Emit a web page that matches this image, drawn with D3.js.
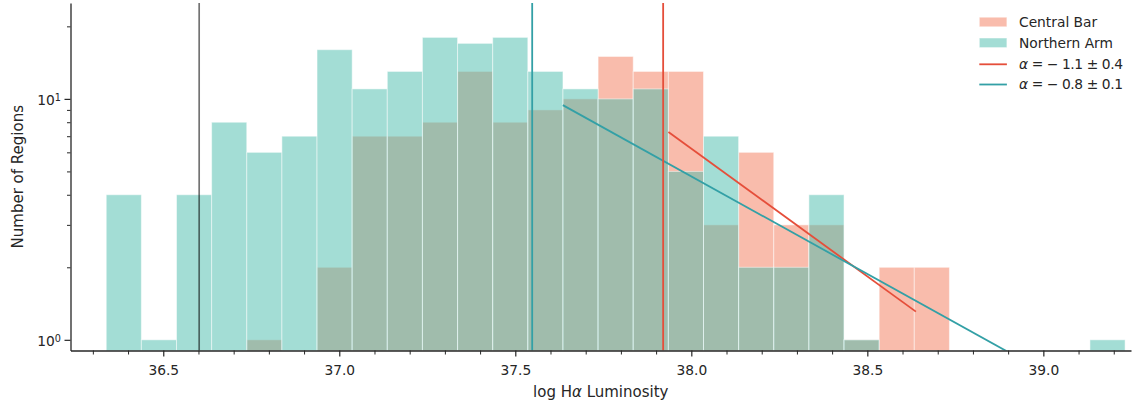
<!DOCTYPE html>
<html>
<head>
<meta charset="utf-8">
<script src="https://cdn.jsdelivr.net/npm/d3@7"></script>
<style>
  html, body { margin: 0; padding: 0; background: #fff; }
  svg { display: block; font-family: "DejaVu Sans", sans-serif; }
  .axis text { fill: #262626; font-size: 13.8px; font-family: "DejaVu Sans", sans-serif; }
  .axis path, .axis line { stroke: #262626; }
</style>
</head>
<body>
<svg id="chart" width="1133" height="404"></svg>
<script>
// Histogram binning (shared by both regions)
const binStart = 36.338;
const binWidth = 0.0998;

// Counts per luminosity bin
const centralBar  = [0,0,0,0,1,0,2,7,7,8,13,8,9,10,15,13,13,3,6,3,3,1,2,2,0,0,0,0,0];
const northernArm = [4,1,4,8,6,7,16,11,13,18,17,18,13,11,10,11,5,7,2,2,4,1,0,0,0,0,0,0,1];

// Power-law fits: slope, fitted range, and count at the range start
const fitAlpha = [-1.06, -0.81];
const fitError = [0.4, 0.1];
const fitStart = [37.935, 37.635];
const fitEnd   = [38.638, 39.25];
const fitNorm  = [7.28, 9.42];

// Vertical reference luminosities
const refLines = [36.602, 37.548, 37.920];

// Axis ticks
const xMajor = [36.5, 37.0, 37.5, 38.0, 38.5, 39.0];
const xMinor = [36.3, 36.4, 36.6, 36.7, 36.8, 36.9, 37.1, 37.2, 37.3, 37.4, 37.6, 37.7, 37.8, 37.9,
                38.1, 38.2, 38.3, 38.4, 38.6, 38.7, 38.8, 38.9, 39.1, 39.2];
const yMajor = [1, 10];
const yMinor = [2, 3, 4, 5, 6, 7, 8, 9, 20];

const seriesNames = ["Central Bar", "Northern Arm"];
const fillColors = ["#f3795a", "#47bbab"];
const lineColors = ["#e54e3a", "#33a0a6"];
const refColors  = ["#000000", "#33a0a6", "#e54e3a"];
const refOpacity = [0.55, 1, 1];

const svg = d3.select("#chart");
const pLeft = 70.5, pRight = 1131, pTop = 3, pBottom = 350.5;

const x = d3.scaleLinear().domain([36.2365, 39.249]).range([pLeft, pRight]);
const y = d3.scaleLog().domain([0.903, 25.0]).range([pBottom, pTop]);

svg.append("defs").append("clipPath").attr("id", "plotClip")
  .append("rect").attr("x", pLeft).attr("y", pTop).attr("width", pRight - pLeft).attr("height", pBottom - pTop);

const plot = svg.append("g").attr("clip-path", "url(#plotClip)");

// Bars
[centralBar, northernArm].forEach((counts, s) => {
  const bins = counts.map((c, i) => ({ c, x0: binStart + i * binWidth, x1: binStart + (i + 1) * binWidth }))
                     .filter(d => d.c > 0);
  plot.append("g").selectAll("rect").data(bins).join("rect")
    .attr("x", d => x(d.x0))
    .attr("width", d => x(d.x1) - x(d.x0))
    .attr("y", d => y(d.c))
    .attr("height", d => pBottom + 2 - y(d.c))
    .attr("fill", fillColors[s]).attr("fill-opacity", 0.5)
    .attr("stroke", "#fff").attr("stroke-opacity", 0.5).attr("stroke-width", 1);
});

// Power-law fit lines: log N = log N0 + alpha (L - L0)
const line = d3.line().x(d => x(d[0])).y(d => y(d[1]));
fitAlpha.forEach((a, s) => {
  const pts = [fitStart[s], fitEnd[s]].map(v => [v, fitNorm[s] * Math.pow(10, a * (v - fitStart[s]))]);
  plot.append("path").attr("d", line(pts))
    .attr("fill", "none").attr("stroke", lineColors[s]).attr("stroke-width", 1.8);
});

// Vertical reference lines
plot.append("g").selectAll("line").data(refLines).join("line")
  .attr("x1", d => x(d)).attr("x2", d => x(d))
  .attr("y1", pTop).attr("y2", pBottom)
  .attr("stroke", (d, i) => refColors[i])
  .attr("stroke-opacity", (d, i) => refOpacity[i])
  .attr("stroke-width", (d, i) => i === 0 ? 1.7 : 1.8);

// X axis
svg.append("g").attr("class", "axis")
  .attr("transform", `translate(0,${pBottom})`)
  .call(d3.axisBottom(x).tickValues(xMinor).tickSize(4).tickFormat("").tickSizeOuter(0))
  .call(g => g.select(".domain").remove())
  .call(g => g.selectAll("line").attr("stroke-width", 1));
svg.append("g").attr("class", "axis")
  .attr("transform", `translate(0,${pBottom})`)
  .call(d3.axisBottom(x).tickValues(xMajor).tickSize(6).tickPadding(8.7)
        .tickFormat(d3.format(".1f")).tickSizeOuter(0))
  .call(g => g.select(".domain").attr("stroke-width", 1.3))
  .call(g => g.selectAll("line").attr("stroke-width", 1.2));

// Y axis (log)
svg.append("g").attr("class", "axis")
  .attr("transform", `translate(${pLeft},0)`)
  .call(d3.axisLeft(y).tickValues(yMinor).tickSize(3.5).tickFormat("").tickSizeOuter(0))
  .call(g => g.select(".domain").remove())
  .call(g => g.selectAll("line").attr("stroke-width", 1));
const yAxis = svg.append("g").attr("class", "axis")
  .attr("transform", `translate(${pLeft},0)`)
  .call(d3.axisLeft(y).tickValues(yMajor).tickSize(6).tickPadding(3.5).tickSizeOuter(0))
  .call(g => g.select(".domain").attr("stroke-width", 1.3))
  .call(g => g.selectAll("line").attr("stroke-width", 1.2));
yAxis.selectAll(".tick text").each(function (d) {
  const t = d3.select(this).text("").attr("dy", "0.42em");
  t.append("tspan").text("10");
  t.append("tspan").attr("dy", "-0.42em").attr("font-size", "9.7px").text(Math.round(Math.log10(d)));
});

// Axis labels
svg.append("text")
  .attr("x", (pLeft + pRight) / 2).attr("y", 397)
  .attr("text-anchor", "middle").attr("fill", "#262626").attr("font-size", "15px")
  .call(t => {
    t.append("tspan").text("log H");
    t.append("tspan").attr("font-style", "italic").text("α");
    t.append("tspan").text(" Luminosity");
  });
svg.append("text")
  .attr("transform", `translate(22.7,${(pTop + pBottom) / 2}) rotate(-90)`)
  .attr("text-anchor", "middle").attr("fill", "#262626").attr("font-size", "15px")
  .text("Number of Regions");

// Legend
const legend = svg.append("g").attr("font-size", "13.8px").attr("fill", "#262626");
const rowY = [22, 42.8, 64.3, 84.5];
const hx = 979.3, hw = 27.6, tx = 1019;
seriesNames.forEach((name, s) => {
  legend.append("rect").attr("x", hx).attr("y", rowY[s] - 4.8).attr("width", hw).attr("height", 9.6)
    .attr("fill", fillColors[s]).attr("fill-opacity", 0.5)
    .attr("stroke", "#fff").attr("stroke-opacity", 0.5);
  legend.append("text").attr("x", tx).attr("y", rowY[s]).attr("dy", "0.36em").text(name);
});
const fmt = d3.format(".1f");
fitAlpha.forEach((a, s) => {
  const r = rowY[s + 2];
  legend.append("line").attr("x1", hx).attr("x2", hx + hw).attr("y1", r).attr("y2", r)
    .attr("stroke", lineColors[s]).attr("stroke-width", 1.8);
  const t = legend.append("text").attr("x", tx).attr("y", r).attr("dy", "0.36em")
    .attr("textLength", 104).attr("lengthAdjust", "spacing");
  t.append("tspan").attr("font-style", "italic").text("α");
  t.append("tspan").text(` = − ${fmt(Math.abs(a))} ± ${fmt(fitError[s])}`);
});
</script>
</body>
</html>
